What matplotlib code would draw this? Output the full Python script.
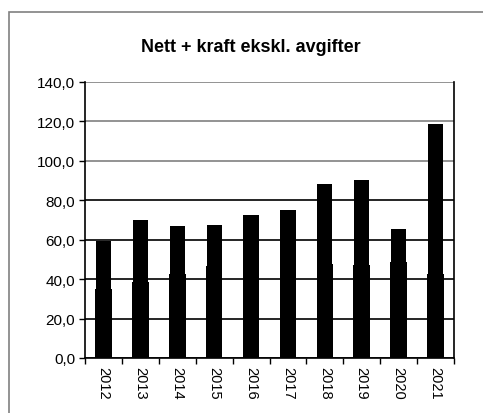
import matplotlib
matplotlib.use("Agg")
import matplotlib.pyplot as plt
from matplotlib.patches import Rectangle

years = ["2012", "2013", "2014", "2015", "2016", "2017", "2018", "2019", "2020", "2021"]
nett = [35.0, 38.5, 42.5, 46.5, 47.0, 47.5, 47.5, 47.0, 48.5, 42.5]
total = [59.2, 70.2, 67.2, 67.7, 72.6, 75.3, 88.3, 90.2, 65.3, 118.5]
kraft = [t - n for t, n in zip(total, nett)]
yticks = [0, 20, 40, 60, 80, 100, 120, 140]

plt.rcParams['font.family'] = ['Liberation Sans', 'DejaVu Sans']

fig = plt.figure(figsize=(4.83, 4.14), dpi=100)
ax = fig.add_axes([85 / 483, 1 - 359 / 414, 369 / 483, 276 / 414])

# outer frame (cut by the right/bottom edge)
fig.patches.append(Rectangle((9 / 483, -0.1), 1.2, 1 - 13 / 414 + 0.1,
                             transform=fig.transFigure, fill=False,
                             edgecolor='#808080', linewidth=1.2, clip_on=False))

x = list(range(len(years)))
ax.bar(x, nett, width=0.45, color='black', zorder=3)
ax.bar(x, kraft, bottom=nett, width=0.41, color='black', zorder=3)

ax.set_xlim(-0.5, len(years) - 0.5)
ax.set_ylim(0, 140)
ax.set_yticks(yticks)
ax.set_yticklabels([f"{v:.1f}".replace(".", ",") for v in yticks], fontsize=11)

ax.set_xticks([i - 0.5 for i in range(len(years) + 1)])
ax.set_xticklabels([])
ax.set_xticks(x, minor=True)
ax.set_xticklabels(years, minor=True, rotation=-90, fontsize=10.5)
ax.tick_params(axis='x', which='minor', length=0, pad=6)
ax.tick_params(axis='x', which='major', length=4, width=1, direction='out')
ax.tick_params(axis='y', length=4, width=1, direction='out', pad=3)

ax.yaxis.grid(True, zorder=0)
for v, gl in zip(yticks, ax.get_ygridlines()):
    gl.set_color('#808080' if v >= 100 else 'black')
    gl.set_linewidth(1.2)
ax.set_axisbelow(True)

ax.spines['top'].set_visible(False)
for s in ['left', 'right', 'bottom']:
    ax.spines[s].set_color('black')
    ax.spines[s].set_linewidth(1.2)

fig.text(251 / 483, 1 - 48 / 414, "Nett + kraft ekskl. avgifter", ha='center', va='center',
         fontsize=13, fontweight='bold')

fig.savefig("out.png", dpi=100)
